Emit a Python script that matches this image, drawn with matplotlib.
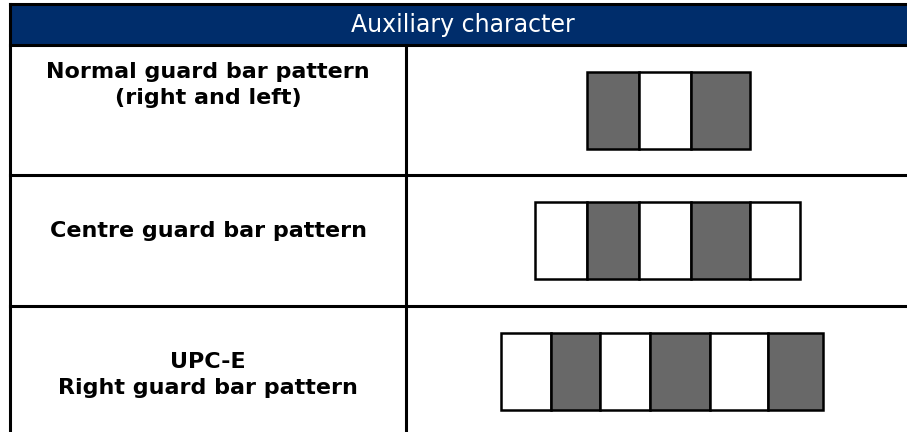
import matplotlib
matplotlib.use("Agg")
import matplotlib.pyplot as plt
import numpy as np

# table content
header = "Auxiliary character"
row_labels = ["Normal guard bar pattern\n(right and left)",
              "Centre guard bar pattern",
              "UPC-E\nRight guard bar pattern"]

# bar patterns: 1 = dark bar, 0 = space, widths (px)
pattern_normal = [1, 0, 1]
widths_normal = [52, 52, 59]
pattern_centre = [0, 1, 0, 1, 0]
widths_centre = [52, 52, 52, 59, 50]
pattern_upce = [0, 1, 0, 1, 0, 1]
widths_upce = [50, 49, 50, 60, 58, 55]

patterns = [pattern_normal, pattern_centre, pattern_upce]
widths = [widths_normal, widths_centre, widths_upce]

navy = "#002d6b"
dark = "#686868"

W, H = 907, 432
fig = plt.figure(figsize=(W / 100, H / 100), dpi=100)
ax = fig.add_axes([0, 0, 1, 1])
ax.set_xlim(0, W)
ax.set_ylim(H, 0)
ax.axis("off")

# layout (pixels)
left, right, divider = 10, W + 5, 406
top, head_bot = 3.5, 45
row_lines = [head_bot, 175, 306, H + 5]
text_y = [85, 231, 375]
bar_x0 = [587, 535, 501]
bar_y0 = [72, 202, 333]
bar_h = 77
lw = 2.2

# header band
ax.fill_between([left, right], top, head_bot, color=navy, zorder=1)
ax.text(463, (top + head_bot) / 2 + 1, header, color="white",
        fontsize=17, ha="center", va="center", family="DejaVu Sans")

# grid lines
ax.plot([left, right], [top, top], color="black", lw=lw, zorder=3)
for y in row_lines[:-1]:
    ax.plot([left, right], [y, y], color="black", lw=lw, zorder=3)
ax.plot([left, left], [top, H + 5], color="black", lw=lw, zorder=3)
ax.plot([divider, divider], [head_bot, H + 5], color="black", lw=lw, zorder=3)

# labels
for lab, y in zip(row_labels, text_y):
    ax.text((left + divider) / 2, y, lab, fontsize=16, fontweight="bold",
            ha="center", va="center", linespacing=1.42, family="DejaVu Sans")

# bar patterns
for pat, wid, x0, y0 in zip(patterns, widths, bar_x0, bar_y0):
    lefts = x0 + np.concatenate([[0], np.cumsum(wid)[:-1]])
    cols = [dark if p else "white" for p in pat]
    ax.bar(lefts, bar_h, width=wid, bottom=y0, align="edge", color=cols,
           edgecolor="black", linewidth=1.8, zorder=2)

fig.savefig("out.png", dpi=100)
